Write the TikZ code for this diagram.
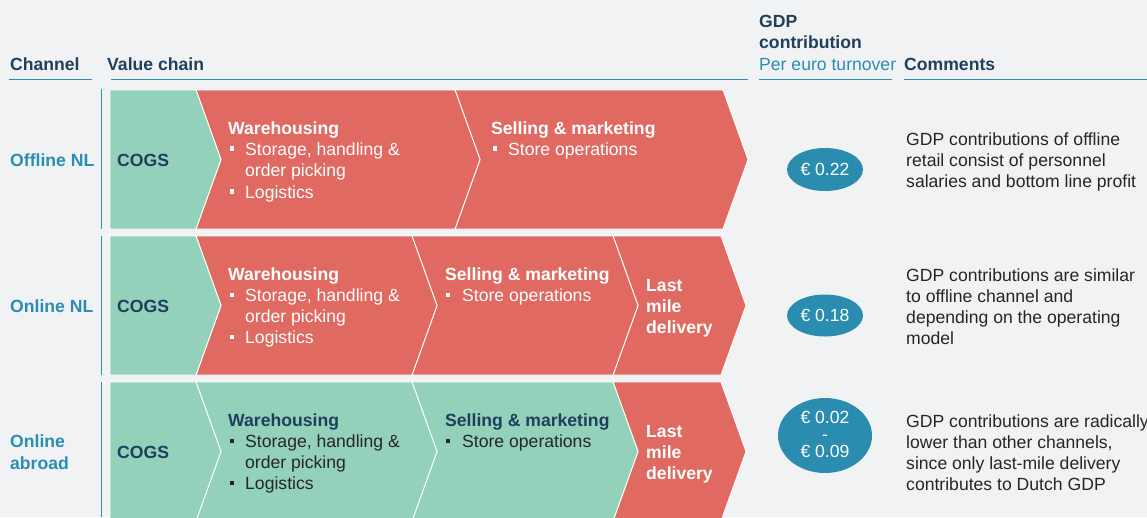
\documentclass[tikz,border=0pt]{standalone}
\usepackage{fontspec}
\setmainfont{Liberation Sans}
\usetikzlibrary{shapes.geometric}
\definecolor{bg}{HTML}{F1F2F4}
\definecolor{cgreen}{HTML}{93D1BA}
\definecolor{cred}{HTML}{E06A62}
\definecolor{navy}{HTML}{1F3F5C}
\definecolor{accent}{HTML}{2A8DB4}
\definecolor{ellc}{HTML}{2A8DB0}
\definecolor{dark}{HTML}{262626}
\newcommand\bulsq[3]{\fill[#3] ({#1-2.15},{#2-8.65}) rectangle ({#1+2.15},{#2-4.35});}
\newcommand\chevfirst[4]{% top, bottom, right x, color
  \filldraw[fill=#4,draw=white,line width=0.9pt] (110,#1) -- (#3,#1) -- ({#3+25},{(#1+#2)/2}) -- (#3,#2) -- (110,#2) -- cycle;}
\newcommand\chevnext[5]{% top, bottom, left x, right x, color
  \filldraw[fill=#5,draw=white,line width=0.9pt] (#3,#1) -- (#4,#1) -- ({#4+25},{(#1+#2)/2}) -- (#4,#2) -- (#3,#2) -- ({#3+25},{(#1+#2)/2}) -- cycle;}
\newcommand\fs{\fontsize{17.6}{21}\selectfont}
\tikzset{
  txt/.style={anchor=base west, inner sep=0pt, font=\fs},
  btxt/.style={anchor=base west, inner sep=0pt, font=\fs\bfseries},
  ctxt/.style={anchor=base, inner sep=0pt, font=\fs, text=white},
  hline/.style={draw=accent, line width=1pt},
  vline/.style={draw=accent, line width=1pt},
  pill/.style={ellipse, fill=ellc, inner sep=0pt, text=white, font=\fs}
}
\begin{document}
\begin{tikzpicture}[x=1pt,y=-1pt]
\useasboundingbox (0,0) rectangle (1147,517);
\clip (0,0) rectangle (1147,517);
\fill[bg] (0,0) rectangle (1147,517);

% headers
\node[btxt, text=navy] (hchan) at (10,70.5) {Channel};
\node[btxt, text=navy] (hval) at (107,70.5) {Value chain};
\node[btxt, text=navy] (hgdp1) at (759,27) {GDP};
\node[btxt, text=navy] (hgdp2) at (759,48) {contribution};
\node[txt, text=accent] (hper) at (759,70) {Per euro turnover};
\node[btxt, text=navy] (hcom) at (904,70) {Comments};
\draw[hline] (9,79.3) -- (91.5,79.3);
\draw[hline] (111,79.3) -- (748,79.3);
\draw[hline] (759,79.3) -- (892,79.3);
\draw[hline] (904,79.3) -- (1147,79.3);

% vertical lines
\draw[vline] (101,89) -- (101,229);
\draw[vline] (101,236) -- (101,375);
\draw[vline] (101,382) -- (101,517);

% ---------- Row 1 ----------
\chevnext{90}{229}{455}{723}{cred}
\chevnext{90}{229}{196}{455}{cred}
\chevfirst{90}{229}{196}{cgreen}
\node[btxt, text=accent] (r1ch) at (10,166.5) {Offline NL};
\node[btxt, text=navy] (r1cogs) at (117,166.5) {COGS};
\node[btxt, text=white] (r1wh) at (228,134) {Warehousing};
\node[txt, text=white] (r1wh1) at (245,155) {Storage, handling \&};
\node[txt, text=white] (r1wh2) at (245,176.5) {order picking};
\node[txt, text=white] (r1wh3) at (245,198) {Logistics};
\bulsq{232.2}{155}{white}
\bulsq{232.2}{198}{white}
\node[btxt, text=white] (r1sm) at (491,134) {Selling \& marketing};
\node[txt, text=white] (r1sm1) at (508,155) {Store operations};
\bulsq{495}{155}{white}
\node[pill, minimum width=76pt, minimum height=43pt] (r1e) at (825,169.5) {€ 0.22};
\node[txt, text=dark] (r1c1) at (906,145) {GDP contributions of offline};
\node[txt, text=dark] (r1c2) at (906,166) {retail consist of personnel};
\node[txt, text=dark] (r1c3) at (906,187) {salaries and bottom line profit};

% ---------- Row 2 ----------
\chevnext{236}{375}{613}{721}{cred}
\chevnext{236}{375}{412}{613}{cred}
\chevnext{236}{375}{196}{412}{cred}
\chevfirst{236}{375}{196}{cgreen}
\node[btxt, text=accent] (r2ch) at (10,312.5) {Online NL};
\node[btxt, text=navy] (r2cogs) at (117,312.5) {COGS};
\node[btxt, text=white] (r2wh) at (228,280.5) {Warehousing};
\node[txt, text=white] (r2wh1) at (245,301.5) {Storage, handling \&};
\node[txt, text=white] (r2wh2) at (245,322.5) {order picking};
\node[txt, text=white] (r2wh3) at (245,343.5) {Logistics};
\bulsq{232.2}{301.5}{white}
\bulsq{232.2}{343.5}{white}
\node[btxt, text=white] (r2sm) at (445,280.5) {Selling \& marketing};
\node[txt, text=white] (r2sm1) at (462,301.5) {Store operations};
\bulsq{448}{301.5}{white}
\node[btxt, text=white] (r2lm1) at (646,291) {Last};
\node[btxt, text=white] (r2lm2) at (646,312) {mile};
\node[btxt, text=white] (r2lm3) at (646,333) {delivery};
\node[pill, minimum width=76pt, minimum height=42pt] (r2e) at (825,315.5) {€ 0.18};
\node[txt, text=dark] (r2c1) at (906,281) {GDP contributions are similar};
\node[txt, text=dark] (r2c2) at (906,302) {to offline channel and};
\node[txt, text=dark] (r2c3) at (906,323) {depending on the operating};
\node[txt, text=dark] (r2c4) at (906,344) {model};

% ---------- Row 3 ----------
\chevnext{382}{521}{613}{721}{cred}
\chevnext{382}{521}{412}{613}{cgreen}
\chevnext{382}{521}{196}{412}{cgreen}
\chevfirst{382}{521}{196}{cgreen}
\node[btxt, text=accent] (r3ch1) at (10,447.7) {Online};
\node[btxt, text=accent] (r3ch2) at (10,469) {abroad};
\node[btxt, text=navy] (r3cogs) at (117,458.5) {COGS};
\node[btxt, text=navy] (r3wh) at (228,426.5) {Warehousing};
\node[txt, text=dark] (r3wh1) at (245,447.5) {Storage, handling \&};
\node[txt, text=dark] (r3wh2) at (245,468.5) {order picking};
\node[txt, text=dark] (r3wh3) at (245,489.5) {Logistics};
\bulsq{232.2}{447.5}{dark}
\bulsq{232.2}{489.5}{dark}
\node[btxt, text=navy] (r3sm) at (445,426.5) {Selling \& marketing};
\node[txt, text=dark] (r3sm1) at (462,447.5) {Store operations};
\bulsq{448}{447.5}{dark}
\node[btxt, text=white] (r3lm1) at (646,437) {Last};
\node[btxt, text=white] (r3lm2) at (646,458) {mile};
\node[btxt, text=white] (r3lm3) at (646,479) {delivery};
\node[pill, minimum width=94pt, minimum height=75pt] (r3e) at (825,435.5) {};
\node[ctxt] (r3e1) at (825,423) {€ 0.02};
\node[ctxt] (r3e2) at (825,440) {-};
\node[ctxt] (r3e3) at (825,457) {€ 0.09};
\node[txt, text=dark] (r3c1) at (906,427) {GDP contributions are radically};
\node[txt, text=dark] (r3c2) at (906,448) {lower than other channels,};
\node[txt, text=dark] (r3c3) at (906,469) {since only last-mile delivery};
\node[txt, text=dark] (r3c4) at (906,490) {contributes to Dutch GDP};
\end{tikzpicture}
\end{document}
